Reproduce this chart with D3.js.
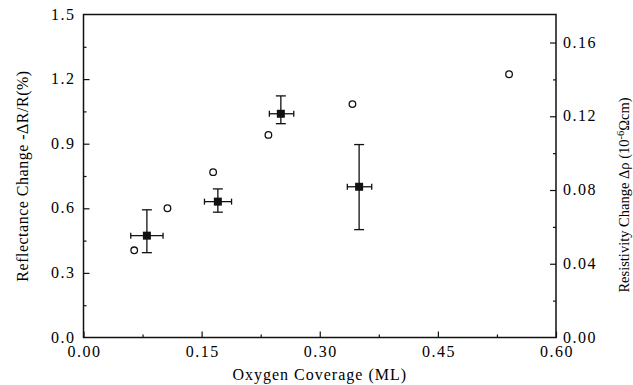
<!DOCTYPE html>
<html>
<head>
<meta charset="utf-8">
<script src="https://cdn.jsdelivr.net/npm/d3@7"></script>
<style>
  body { margin: 0; background: #fff; }
  text { font-family: "Liberation Serif", "DejaVu Serif", serif; fill: #000; }
</style>
</head>
<body>
<div id="chart"></div>
<script>
// reflectance change (filled squares, left axis) with error bars
const reflCoverage = [0.0805, 0.1706, 0.2506, 0.350];
const reflValue    = [0.473, 0.631, 1.039, 0.700];
const reflLow      = [0.394, 0.582, 0.993, 0.501];
const reflHigh     = [0.593, 0.690, 1.122, 0.896];
const covLow       = [0.060, 0.1536, 0.236, 0.335];
const covHigh      = [0.101, 0.188, 0.267, 0.366];

// resistivity change (open circles, right axis)
const resCoverage = [0.0644, 0.1066, 0.1646, 0.2348, 0.3415, 0.5404];
const resValue    = [0.0473, 0.0701, 0.0897, 0.1099, 0.1266, 0.1428];

const xTicks = [0, 0.15, 0.30, 0.45, 0.60];
const yTicks = [0, 0.3, 0.6, 0.9, 1.2, 1.5];
const y2Ticks = [0, 0.04, 0.08, 0.12, 0.16];

let width = 633, height = 385;
let margin = {left: 83.5, right: 633 - 556, top: 14.5, bottom: 385 - 337.5};

const svg = d3.select("#chart").append("svg")
    .attr("width", width)
    .attr("height", height);

const x = d3.scaleLinear().domain([0, 0.6]).range([margin.left, width - margin.right]);
const y = d3.scaleLinear().domain([0, 1.5]).range([height - margin.bottom, margin.top]);
const y2 = d3.scaleLinear().domain([0, 0.1752]).range([height - margin.bottom, margin.top]);

// frame
svg.append("rect")
    .attr("x", x(0)).attr("y", y(1.5))
    .attr("width", x(0.6) - x(0)).attr("height", y(0) - y(1.5))
    .attr("fill", "none").attr("stroke", "#111").attr("stroke-width", 1.5);

// inward ticks
function ticks(g, axis) { g.call(axis); g.select(".domain").remove(); g.selectAll("line").attr("stroke", "#111").attr("stroke-width", 1.2); }

const minorX = d3.range(0.075, 0.6, 0.15);
const minorY = d3.range(0.15, 1.5, 0.3);
const minorY2 = d3.range(0.02, 0.17, 0.04);

svg.append("g").attr("transform", `translate(0,${y(0)})`)
    .call(ticks, d3.axisTop(x).tickValues(xTicks).tickSize(6).tickFormat(""));
svg.append("g").attr("transform", `translate(0,${y(0)})`)
    .call(ticks, d3.axisTop(x).tickValues(minorX).tickSize(3).tickFormat(""));
svg.append("g").attr("transform", `translate(${x(0)},0)`)
    .call(ticks, d3.axisRight(y).tickValues(yTicks.slice(1, 5)).tickSize(6).tickFormat(""));
svg.append("g").attr("transform", `translate(${x(0)},0)`)
    .call(ticks, d3.axisRight(y).tickValues(minorY).tickSize(3).tickFormat(""));
svg.append("g").attr("transform", `translate(${x(0.6)},0)`)
    .call(ticks, d3.axisLeft(y2).tickValues(y2Ticks.slice(1)).tickSize(6).tickFormat(""));
svg.append("g").attr("transform", `translate(${x(0.6)},0)`)
    .call(ticks, d3.axisLeft(y2).tickValues(minorY2).tickSize(3).tickFormat(""));

// tick labels
svg.selectAll(".xl").data(xTicks).enter().append("text")
    .attr("x", d => x(d) + 1).attr("y", y(0) + 19.5)
    .attr("text-anchor", "middle").style("font-size", "16px").style("letter-spacing", "1.5px")
    .text(d => d3.format(".2f")(d));
svg.selectAll(".yl").data(yTicks).enter().append("text")
    .attr("x", x(0) - 8).attr("y", d => y(d) + 5)
    .attr("text-anchor", "end").style("font-size", "16px").style("letter-spacing", "1.5px")
    .text(d => d3.format(".1f")(d));
svg.selectAll(".y2l").data(y2Ticks).enter().append("text")
    .attr("x", x(0.6) + 7).attr("y", d => y2(d) + 5)
    .attr("text-anchor", "start").style("font-size", "16px").style("letter-spacing", "1.5px")
    .text(d => d3.format(".2f")(d));

// axis titles
svg.append("text")
    .attr("x", (x(0) + x(0.6)) / 2).attr("y", 380)
    .attr("text-anchor", "middle").style("font-size", "16px").style("letter-spacing", "1px")
    .text("Oxygen Coverage (ML)");
svg.append("text")
    .attr("transform", "translate(28,176) rotate(-90)")
    .attr("text-anchor", "middle").style("font-size", "16px").style("letter-spacing", "0.5px")
    .text("Reflectance Change  -\u0394R/R(%)");
const t2 = svg.append("text")
    .attr("transform", "translate(629,195) rotate(-90)")
    .attr("text-anchor", "middle").style("font-size", "14.5px");
t2.append("tspan").text("Resistivity Change \u0394\u03c1 (10");
t2.append("tspan").attr("dy", -5).style("font-size", "10.5px").text("-6");
t2.append("tspan").attr("dy", 5).text("\u03a9cm)");

// error bars
const refl = reflCoverage.map((c, i) => ({c, v: reflValue[i], lo: reflLow[i], hi: reflHigh[i], cl: covLow[i], ch: covHigh[i]}));
const eb = svg.append("g").attr("stroke", "#111").attr("stroke-width", 1.3);
refl.forEach(d => {
    eb.append("line").attr("x1", x(d.c)).attr("x2", x(d.c)).attr("y1", y(d.lo)).attr("y2", y(d.hi));
    eb.append("line").attr("x1", x(d.c) - 5).attr("x2", x(d.c) + 5).attr("y1", y(d.lo)).attr("y2", y(d.lo));
    eb.append("line").attr("x1", x(d.c) - 5).attr("x2", x(d.c) + 5).attr("y1", y(d.hi)).attr("y2", y(d.hi));
    eb.append("line").attr("x1", x(d.cl)).attr("x2", x(d.ch)).attr("y1", y(d.v)).attr("y2", y(d.v));
    eb.append("line").attr("x1", x(d.cl)).attr("x2", x(d.cl)).attr("y1", y(d.v) - 3).attr("y2", y(d.v) + 3);
    eb.append("line").attr("x1", x(d.ch)).attr("x2", x(d.ch)).attr("y1", y(d.v) - 3).attr("y2", y(d.v) + 3);
});
svg.selectAll(".sq").data(refl).enter().append("rect")
    .attr("x", d => x(d.c) - 4).attr("y", d => y(d.v) - 4)
    .attr("width", 8).attr("height", 8).attr("fill", "#111");

// open circles
svg.selectAll(".ci").data(resCoverage).enter().append("circle")
    .attr("cx", d => x(d)).attr("cy", (d, i) => y2(resValue[i]))
    .attr("r", 3.3).attr("fill", "#fff").attr("stroke", "#111").attr("stroke-width", 1.3);
</script>
</body>
</html>
